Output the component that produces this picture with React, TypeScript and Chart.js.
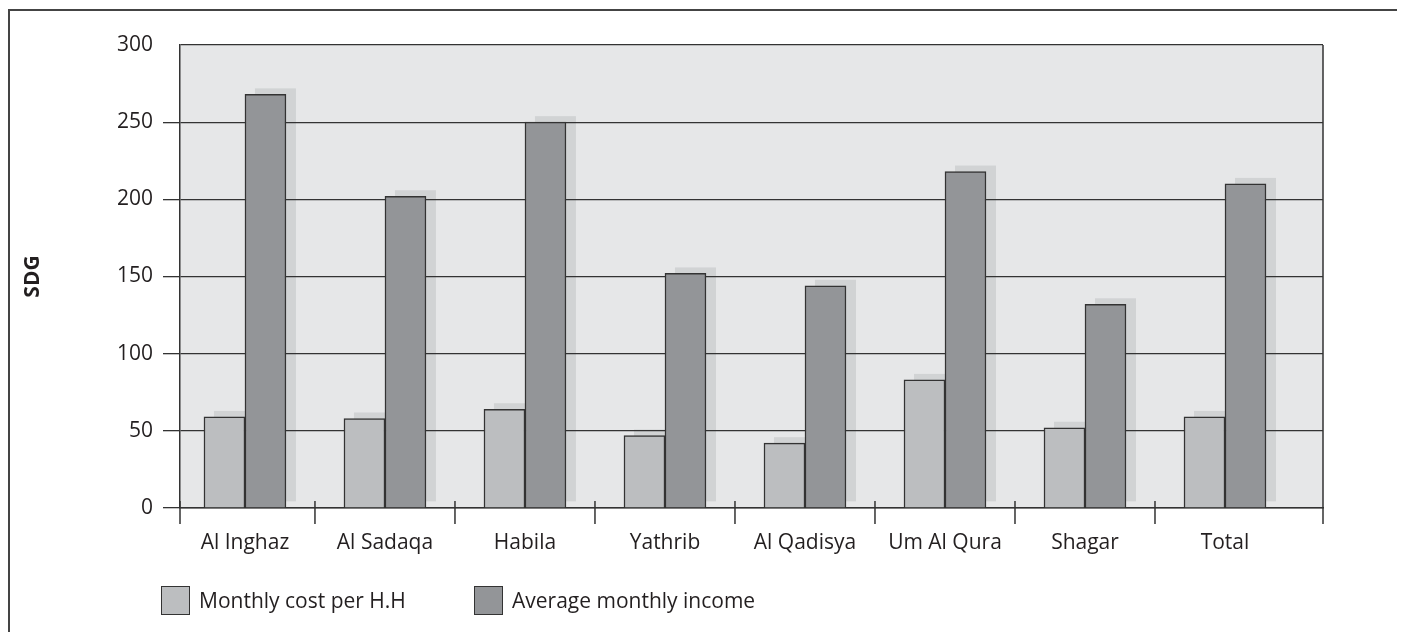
import { useEffect, useRef } from 'react';
import { Chart, registerables } from 'chart.js';

Chart.register(...registerables);

const categories = ['Al Inghaz', 'Al Sadaqa', 'Habila', 'Yathrib', 'Al Qadisya', 'Um Al Qura', 'Shagar', 'Total'];
const monthlyCost = [59, 58, 64, 47, 42, 83, 52, 59];
const avgIncome = [268, 202, 250, 152, 144, 218, 132, 210];
const seriesLabels = ['Monthly cost per H.H', 'Average monthly income'];
const seriesColors = ['#bcbec0', '#939598'];
const yTickValues = [0, 50, 100, 150, 200, 250, 300];

const FONT = '"Open Sans", sans-serif';
const TEXT = '#231f20';
const LINE = '#333333';

const decorPlugin = {
  id: 'decor',
  beforeDraw(chart: any) {
    const { ctx, chartArea: a } = chart;
    ctx.save();
    ctx.fillStyle = '#e6e7e8';
    ctx.fillRect(a.left, a.top, a.right - a.left, a.bottom - a.top);
    ctx.beginPath();
    ctx.rect(a.left, a.top, a.right - a.left, a.bottom - a.top);
    ctx.clip();
    ctx.fillStyle = '#d1d3d4';
    chart.data.datasets.forEach((_: any, di: number) => {
      const meta = chart.getDatasetMeta(di);
      meta.data.forEach((bar: any) => {
        const { x, y, width, base } = bar.getProps(['x', 'y', 'width', 'base'], true);
        ctx.fillRect(x - width / 2 + 10, y - 6, width, base - y);
      });
    });
    ctx.restore();
  },
  afterDraw(chart: any) {
    const { ctx, chartArea: a, scales } = chart;
    const xs = scales.x;
    ctx.save();
    ctx.strokeStyle = LINE;
    ctx.lineWidth = 1.5;
    ctx.beginPath();
    ctx.moveTo(a.right, a.top);
    ctx.lineTo(a.right, a.bottom);
    const bounds = [a.left, ...categories.slice(1).map((_, i) => xs.getPixelForValue(i + 0.5)), a.right];
    bounds.forEach((px: number) => {
      ctx.moveTo(px, a.bottom - 7);
      ctx.lineTo(px, a.bottom + 16);
    });
    ctx.stroke();
    ctx.restore();
  },
};

export default function App() {
  const canvasRef = useRef<HTMLCanvasElement | null>(null);

  useEffect(() => {
    if (!canvasRef.current) return;
    const chart = new Chart(canvasRef.current, {
      type: 'bar',
      data: {
        datasets: [
          {
            label: seriesLabels[0],
            data: monthlyCost.map((v, i) => ({ x: i, y: v })),
            backgroundColor: seriesColors[0],
            borderColor: LINE,
            borderWidth: 1.5,
            barThickness: 41,
          },
          {
            label: seriesLabels[1],
            data: avgIncome.map((v, i) => ({ x: i, y: v })),
            backgroundColor: seriesColors[1],
            borderColor: LINE,
            borderWidth: 1.5,
            barThickness: 41,
          },
        ],
      },
      options: {
        animation: false,
        responsive: true,
        maintainAspectRatio: false,
        layout: { padding: { left: 0, top: 34, right: 75, bottom: 50 } },
        plugins: { legend: { display: false }, tooltip: { enabled: false } },
        scales: {
          x: {
            type: 'linear',
            min: -0.464,
            max: 7.7,
            offset: false,
            bounds: 'data',
            afterBuildTicks: (s: any) => {
              s.ticks = categories.map((_, i) => ({ value: i }));
            },
            afterFit: (s: any) => {
              s.height = 75;
            },
            ticks: {
              autoSkip: false,
              maxRotation: 0,
              padding: 14,
              color: TEXT,
              font: { family: FONT, size: 21 },
              callback: (_v: any, i: number) => categories[i],
            },
            grid: { display: false, offset: false },
            border: { display: true, color: LINE, width: 1.5 },
          },
          y: {
            min: 0,
            max: 300,
            afterBuildTicks: (s: any) => {
              s.ticks = yTickValues.map((v) => ({ value: v }));
            },
            afterFit: (s: any) => {
              s.width = 170;
            },
            ticks: { padding: 10, color: TEXT, font: { family: FONT, size: 21 } },
            grid: {
              color: LINE,
              lineWidth: 1.3,
              tickLength: 17,
              tickColor: (c: any) => (c.tick && c.tick.value === 300 ? 'rgba(0,0,0,0)' : LINE),
            },
            border: { display: true, color: LINE, width: 1.5 },
            title: {
              display: true,
              text: 'SDG',
              color: TEXT,
              font: { family: FONT, size: 21, weight: 'bold' },
              padding: { top: 10, bottom: 0 },
            },
          },
        },
      },
      plugins: [decorPlugin],
    } as any);
    return () => chart.destroy();
  }, []);

  const legendItem = (i: number, left: number) => (
    <div
      key={i}
      style={{ position: 'absolute', left, top: 574, display: 'flex', alignItems: 'center', height: 30 }}
    >
      <div
        style={{
          width: 27,
          height: 27,
          background: seriesColors[i],
          border: '1.5px solid ' + LINE,
        }}
      />
      <span style={{ marginLeft: 9, fontFamily: FONT, fontSize: 21, color: TEXT, lineHeight: '30px', whiteSpace: 'nowrap' }}>
        {seriesLabels[i]}
      </span>
    </div>
  );

  return (
    <div
      style={{
        position: 'relative',
        top: 1,
        width: 1388,
        height: 622,
        border: '2px solid #444',
        borderBottom: 'none',
      }}
    >
      <div style={{ position: 'absolute', left: 0, top: 0, width: 1388, height: 622 }}>
        <canvas ref={canvasRef} />
      </div>
      {legendItem(0, 151)}
      {legendItem(1, 464)}
    </div>
  );
}
